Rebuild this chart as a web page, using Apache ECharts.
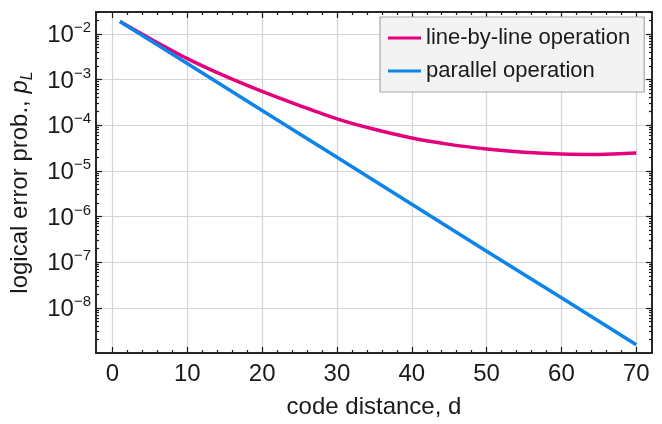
<!DOCTYPE html>
<html>
<head>
<meta charset="utf-8">
<script src="https://cdn.jsdelivr.net/npm/echarts@6/dist/echarts.min.js"></script>
<style>
  html, body { margin: 0; padding: 0; background: #fff; }
  #chart { width: 662px; height: 424px; }
</style>
</head>
<body>
<div id="chart"></div>
<script>
// pL vs code distance d, values stored as log10(pL)
const lineByLineD = [1, 5, 10, 15, 20, 25, 30, 35, 40, 45, 50, 55, 60, 65, 70];
const lineByLine = [-1.73, -2.10, -2.54, -2.92, -3.26, -3.57, -3.86, -4.09, -4.28, -4.42, -4.52, -4.59, -4.63, -4.64, -4.61];
const parallelD = [1, 10, 20, 30, 40, 50, 60, 70];
const parallel = [-1.73, -2.65, -3.68, -4.70, -5.73, -6.76, -7.78, -8.81];

const xTicks = [0, 10, 20, 30, 40, 50, 60, 70];
const xMinorTicks = [2, 4, 6, 8, 12, 14, 16, 18, 22, 24, 26, 28, 32, 34, 36, 38,
  42, 44, 46, 48, 52, 54, 56, 58, 62, 64, 66, 68];
const yTicks = [-8, -7, -6, -5, -4, -3, -2];
const yDecades = [-9, -8, -7, -6, -5, -4, -3, -2];
const yMantissa = [2, 3, 4, 5, 6, 7, 8, 9];

const X_MIN = -2.2, X_MAX = 72.1;
const Y_MIN = -8.99, Y_MAX = -1.52;
const FONT = '"Liberation Sans", Arial, sans-serif';
const INK = '#1a1a1a';

const yMinorTicks = [];
yDecades.forEach(n => yMantissa.forEach(k => {
  const v = n + Math.log10(k);
  if (v > Y_MIN && v < Y_MAX) yMinorTicks.push(v);
}));

const chart = echarts.init(document.getElementById('chart'), null, { renderer: 'canvas' });

function frameAxis(base, extra) {
  return Object.assign({
    type: 'value',
    axisLine: { show: true, onZero: false, lineStyle: { color: INK, width: 1.5 } },
    axisLabel: { show: false },
    splitLine: { show: false },
  }, base, extra);
}

function xAx(position, ticks, len, extra) {
  return frameAxis({
    min: X_MIN, max: X_MAX, position,
    axisTick: { show: true, inside: true, length: len, customValues: ticks, lineStyle: { color: INK, width: 1.2 } },
  }, extra);
}

function yAx(position, ticks, len, extra) {
  return frameAxis({
    min: Y_MIN, max: Y_MAX, position,
    axisTick: { show: true, inside: true, length: len, customValues: ticks, lineStyle: { color: INK, width: 1.2 } },
  }, extra);
}

const gridLine = { show: true, lineStyle: { color: '#d4d4d4', width: 1.2 } };

chart.setOption({
  backgroundColor: '#fff',
  animation: false,
  textStyle: { fontFamily: FONT },
  grid: { left: 96, right: 10, top: 12, bottom: 69 },
  legend: {
    orient: 'vertical',
    left: 380,
    top: 17,
    padding: [9, 14, 9, 8],
    itemGap: 9,
    itemWidth: 33,
    itemHeight: 3,
    itemTextGap: 7,
    icon: 'rect',
    backgroundColor: '#f3f3f3',
    borderColor: '#a8a8a8',
    borderWidth: 1.2,
    textStyle: { fontSize: 22, lineHeight: 24, color: INK, fontFamily: FONT },
    data: ['line-by-line operation', 'parallel operation'],
  },
  xAxis: [
    xAx('bottom', xTicks, 6, {
      axisLabel: { show: true, customValues: xTicks, fontSize: 24, margin: 9, color: INK, fontFamily: FONT },
      splitLine: gridLine,
      name: 'code distance, d',
      nameLocation: 'middle',
      nameGap: 42,
      nameTextStyle: { fontSize: 24, color: INK, fontFamily: FONT },
    }),
    xAx('bottom', xMinorTicks, 3),
    xAx('top', xTicks, 6),
    xAx('top', xMinorTicks, 3),
  ],
  yAxis: [
    yAx('left', yTicks, 6, {
      axisLabel: {
        show: true,
        customValues: yTicks,
        margin: 5,
        formatter: v => '{b|10}{s|\u2212' + Math.abs(Math.round(v)) + '}',
        rich: {
          b: { fontSize: 24, color: INK, fontFamily: FONT, verticalAlign: 'bottom' },
          s: { fontSize: 15, color: INK, fontFamily: FONT, verticalAlign: 'bottom', padding: [0, 0, 12, 0] },
        },
      },
      splitLine: gridLine,
      name: '{a|logical error prob., }{p|p}{l|L}',
      nameLocation: 'middle',
      nameGap: 60,
      nameTextStyle: {
        rich: {
          a: { fontSize: 24, color: INK, fontFamily: FONT, verticalAlign: 'bottom', padding: [0, 0, 4, 0] },
          p: { fontSize: 24, color: INK, fontFamily: FONT, fontStyle: 'italic', verticalAlign: 'bottom', padding: [0, 0, 4, 0] },
          l: { fontSize: 16, color: INK, fontFamily: FONT, fontStyle: 'italic', verticalAlign: 'bottom' },
        },
      },
    }),
    yAx('left', yMinorTicks, 3),
    yAx('right', yTicks, 6),
    yAx('right', yMinorTicks, 3),
  ],
  series: [
    {
      name: 'line-by-line operation',
      type: 'line',
      xAxisIndex: 0,
      yAxisIndex: 0,
      data: lineByLineD.map((d, i) => [d, lineByLine[i]]),
      smooth: 0.3,
      showSymbol: false,
      symbol: 'none',
      color: '#e4007d',
      lineStyle: { color: '#e4007d', width: 3.5 },
    },
    {
      name: 'parallel operation',
      type: 'line',
      xAxisIndex: 0,
      yAxisIndex: 0,
      data: parallelD.map((d, i) => [d, parallel[i]]),
      showSymbol: false,
      symbol: 'none',
      color: '#0d84e9',
      lineStyle: { color: '#0d84e9', width: 3.5 },
    },
  ],
});
</script>
</body>
</html>
